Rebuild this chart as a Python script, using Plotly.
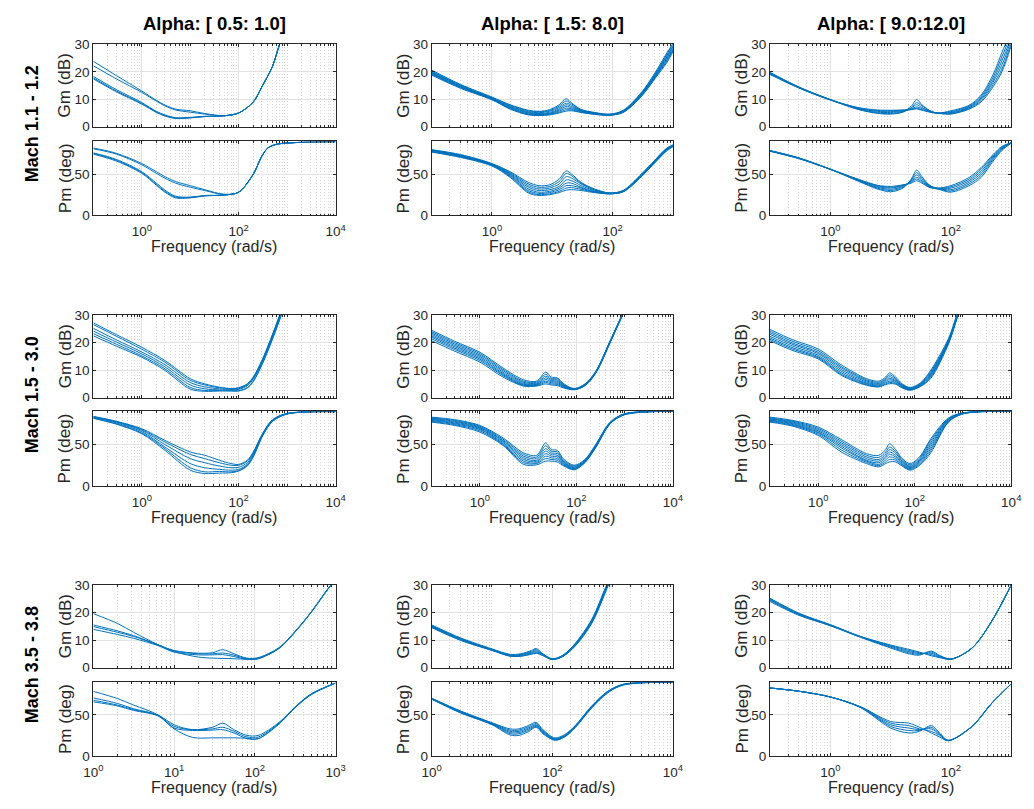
import plotly.graph_objects as go

# ---------------------------------------------------------------- text
COL_TITLES = ["Alpha: [ 0.5: 1.0]", "Alpha: [ 1.5: 8.0]", "Alpha: [ 9.0:12.0]"]
ROW_TITLES = ["Mach 1.1 - 1.2", "Mach 1.5 - 3.0", "Mach 3.5 - 3.8"]
GM_LABEL = "Gm (dB)"
PM_LABEL = "Pm (deg)"
X_LABEL = "Frequency (rad/s)"
GM_TICKS = [0, 10, 20, 30]
PM_TICKS = [0, 50]
# decade range of each panel's frequency axis and the labelled decades
X_DECADES = [[(-1, 4), (-1, 3), (-1, 3)], [(-1, 4), (-1, 4), (-1, 4)], [(0, 3), (0, 4), (-1, 3)]]
X_LABELLED = [[[0, 2, 4], [0, 2], [0, 2]], [[0, 2, 4], [0, 2, 4], [0, 2, 4]], [[0, 1, 2, 3], [0, 2, 4], [0, 2]]]

# ---------------------------------------------------------------- row 1, col 1
F_GM_11 = [0.1, 0.3, 1, 2, 3, 5, 10, 20, 50, 100, 200, 300, 500, 700, 1000]
GM_11 = [
    [23.8, 18.6, 13.0, 9.6, 7.9, 6.4, 5.8, 4.8, 4.0, 5.0, 9.0, 14.5, 22.0, 30.0, 36.0],
    [22.2, 17.4, 12.5, 9.3, 7.6, 6.1, 5.3, 4.6, 4.0, 5.0, 9.0, 14.5, 22.0, 30.0, 36.0],
    [18.3, 13.5, 8.8, 5.6, 4.3, 3.3, 3.4, 3.8, 4.0, 5.0, 9.0, 14.5, 22.0, 30.0, 36.0],
    [17.8, 13.0, 8.5, 5.4, 4.1, 3.1, 3.3, 3.7, 4.0, 5.0, 9.0, 14.5, 22.0, 30.0, 36.0],
    [17.4, 12.7, 8.2, 5.2, 3.9, 3.0, 3.2, 3.7, 4.0, 5.0, 9.0, 14.5, 22.0, 30.0, 36.0],
]
F_PM_11 = [0.1, 0.3, 1, 2, 3, 5, 10, 20, 50, 100, 200, 300, 400, 600, 1000, 3000, 10000]
PM_11 = [
    [82, 75.5, 63, 53, 47, 41, 36, 31, 25.5, 28, 50, 72, 82, 86.5, 88, 89.4, 89.8],
    [81, 74.5, 61.5, 51, 45, 39, 34, 30, 25, 28, 50, 72, 82, 86.5, 88, 89.4, 89.8],
    [76, 68, 53, 39, 30.5, 23, 22, 24, 24.5, 28, 50, 72, 82, 86.5, 88, 89.4, 89.8],
    [75.5, 67, 52, 37.5, 29, 22, 21.5, 23.5, 24.5, 28, 50, 72, 82, 86.5, 88, 89.4, 89.8],
    [74.5, 66, 51, 36.5, 28, 21, 21, 23.5, 24.5, 28, 50, 72, 82, 86.5, 88, 89.4, 89.8],
]

# ---------------------------------------------------------------- row 1, col 2
F_GM_12 = [0.1, 0.3, 1, 2, 4, 6, 9, 13, 17, 21, 30, 50, 90, 150, 300, 500, 800, 1200]
GM_12 = [
    [20.6, 15.4, 10.8, 8.0, 6.0, 5.6, 6.2, 8.0, 10.2, 8.6, 6.3, 5.2, 4.6, 6.0, 12.5, 19.5, 27.0, 33.0],
    [20.3, 15.2, 10.6, 7.8, 5.8, 5.4, 5.9, 7.5, 9.4, 8.3, 6.2, 5.1, 4.5, 5.8, 12.2, 19.0, 26.5, 33.0],
    [20.0, 15.0, 10.4, 7.5, 5.5, 5.1, 5.6, 7.0, 8.6, 7.8, 6.0, 5.0, 4.4, 5.7, 12.0, 18.8, 26.0, 32.0],
    [19.7, 14.8, 10.3, 7.3, 5.2, 4.8, 5.2, 6.5, 8.0, 7.3, 5.9, 4.9, 4.4, 5.6, 11.8, 18.5, 25.5, 32.0],
    [19.5, 14.6, 10.1, 7.0, 5.0, 4.6, 4.9, 6.1, 7.4, 6.9, 5.7, 4.8, 4.3, 5.5, 11.6, 18.2, 25.0, 31.5],
    [19.2, 14.4, 10.0, 6.8, 4.7, 4.4, 4.7, 5.7, 6.8, 6.5, 5.5, 4.7, 4.3, 5.4, 11.4, 18.0, 24.5, 31.0],
    [19.0, 14.2, 9.9, 6.6, 4.5, 4.2, 4.5, 5.3, 6.2, 6.1, 5.3, 4.6, 4.2, 5.3, 11.2, 17.7, 24.0, 31.0],
    [18.8, 14.0, 9.8, 6.4, 4.3, 4.1, 4.3, 5.0, 5.7, 5.8, 5.2, 4.5, 4.2, 5.2, 11.0, 17.4, 23.5, 30.5],
]
F_PM_12 = [0.1, 0.3, 1, 2, 4, 6, 9, 13, 17, 21, 30, 50, 90, 150, 300, 500, 800, 1200]
PM_12 = [
    [80, 74, 63, 53, 40, 36, 37, 44, 54, 50, 40, 32, 27, 30, 50, 67, 82, 88],
    [79.5, 73.5, 62.5, 52, 38, 34, 35, 41, 51, 48, 39, 31, 27, 30, 50, 67, 82, 88],
    [79, 73, 62, 51, 36, 32, 33, 38, 47, 45, 38, 31, 26.5, 29.5, 49, 66, 81, 88],
    [78.5, 72.5, 62, 50, 34, 30, 31, 35, 43, 42, 36, 30, 26.5, 29.5, 49, 66, 81, 88],
    [78, 72, 61.5, 49, 32, 28, 29, 33, 39, 39, 34, 29, 26.5, 29, 48, 65, 80, 87.5],
    [78, 71.5, 61, 48, 30, 26.5, 27.5, 31, 36, 36, 33, 28.5, 26, 29, 48, 65, 80, 87.5],
    [77.5, 71, 60.5, 47, 28.5, 25, 26, 29, 33, 33.5, 31.5, 28, 26, 28.5, 47, 64, 79, 87],
    [77, 70.5, 60, 46, 27, 24, 25, 27.5, 30.5, 31, 30, 27.5, 26, 28.5, 47, 64, 79, 87],
]

# ---------------------------------------------------------------- row 1, col 3
F_GM_13 = [0.1, 0.3, 1, 3, 6, 10, 16, 22, 27, 33, 45, 60, 100, 200, 316, 500, 700, 1000]
GM_13 = [
    [19.8, 14.5, 9.9, 6.3, 5.0, 4.8, 5.5, 7.5, 9.9, 8.0, 5.8, 5.0, 5.8, 7.8, 11.5, 19.0, 27.0, 35.0],
    [19.6, 14.4, 9.8, 6.2, 4.9, 4.6, 5.3, 7.0, 8.8, 7.6, 5.8, 5.0, 5.5, 7.5, 11.0, 18.0, 25.5, 33.5],
    [19.5, 14.3, 9.8, 6.4, 5.3, 5.2, 5.6, 6.8, 8.0, 7.0, 5.6, 4.9, 5.2, 7.2, 10.5, 17.0, 24.0, 32.5],
    [19.4, 14.3, 9.9, 6.6, 5.6, 5.5, 5.8, 6.5, 7.2, 6.6, 5.5, 5.0, 5.0, 6.9, 10.0, 16.2, 22.5, 31.5],
    [19.2, 14.2, 9.8, 6.8, 5.9, 5.8, 6.0, 6.3, 6.8, 6.2, 5.4, 4.9, 4.8, 6.6, 9.5, 15.3, 21.0, 30.5],
    [19.0, 14.1, 9.7, 6.9, 6.1, 6.0, 6.1, 6.2, 6.5, 6.0, 5.3, 4.9, 4.6, 6.4, 9.0, 14.5, 20.0, 29.5],
]
F_PM_13 = [0.1, 0.3, 1, 3, 6, 10, 16, 22, 27, 33, 45, 60, 100, 200, 316, 500, 700, 1000]
PM_13 = [
    [79, 70, 56, 41, 32, 28.5, 33, 44, 55, 47, 36, 33, 36, 46, 58, 74, 84, 88.5],
    [78.8, 69.8, 56, 41.5, 33, 30, 34, 43, 52, 45, 36, 33, 34.5, 44, 56, 72.5, 83, 88.5],
    [78.6, 69.6, 56, 42, 34, 31.5, 35, 42, 49, 43.5, 35, 32.5, 33, 42, 53.5, 71, 82, 88.3],
    [78.4, 69.4, 56, 42.5, 35, 33, 36, 41, 46, 42, 34.5, 32.5, 31, 40, 51, 69.5, 81, 88.2],
    [78.2, 69.2, 56, 43, 36, 34, 36.5, 40, 44, 40.5, 34, 32, 29.5, 38, 48.5, 68, 80, 88],
    [78, 69, 56, 43.5, 36.5, 35, 37, 39, 42, 39, 33.5, 32, 28, 36, 46, 66, 79, 88],
]

# ---------------------------------------------------------------- row 2, col 1
F_GM_21 = [0.1, 0.3, 1, 3, 10, 20, 40, 70, 100, 150, 200, 300, 450, 700, 1000]
GM_21 = [
    [27.2, 22.9, 18.3, 13.5, 6.9, 5.0, 3.8, 3.3, 3.6, 5.0, 7.5, 13.5, 21.0, 30.0, 37.0],
    [26.6, 22.3, 17.6, 12.9, 6.3, 4.6, 3.6, 3.2, 3.5, 4.9, 7.3, 13.2, 20.7, 29.7, 37.0],
    [25.2, 21.0, 16.6, 12.0, 5.5, 3.9, 3.2, 3.0, 3.2, 4.6, 7.0, 13.0, 20.5, 29.5, 37.0],
    [24.2, 20.2, 15.9, 11.2, 4.6, 3.2, 2.8, 2.8, 3.0, 4.3, 6.8, 12.7, 20.2, 29.2, 37.0],
    [23.3, 19.4, 15.2, 10.5, 3.7, 2.6, 2.6, 2.5, 2.5, 3.6, 6.0, 12.0, 19.5, 28.5, 36.0],
    [22.5, 18.7, 14.7, 9.9, 3.1, 2.3, 2.4, 2.4, 2.4, 3.5, 5.8, 11.8, 19.2, 28.2, 36.0],
]
F_PM_21 = [0.1, 0.3, 1, 3, 10, 20, 40, 70, 100, 150, 200, 316, 500, 1000, 10000]
PM_21 = [
    [84, 78, 69, 55, 41, 37, 31, 27, 26, 31, 41, 64, 80, 87.5, 89.7],
    [83.5, 77.5, 68, 53, 38, 33, 28, 25, 25, 30, 40, 63.5, 79.5, 87.5, 89.7],
    [83, 77, 67, 50, 33, 28, 24, 22, 22.5, 28, 39, 63, 79, 87, 89.7],
    [82.5, 76, 65.5, 47, 27, 22, 20, 19, 20, 26, 37, 62, 78.5, 87, 89.7],
    [82, 75, 64, 45, 22, 17, 17.5, 17, 18.5, 25, 36, 61.5, 78, 87, 89.7],
    [81.5, 74.5, 63, 43, 19, 15, 15.5, 16, 18, 24, 35, 61, 78, 87, 89.7],
]

# ---------------------------------------------------------------- row 2, col 2
F_GM_22 = [0.1, 0.3, 1, 3, 8, 15, 23, 30, 40, 55, 90, 150, 250, 500, 900]
GM_22 = [
    [24.5, 20.5, 16.5, 10.8, 6.5, 6.0, 9.3, 7.5, 7.2, 5.0, 3.3, 5.0, 9.5, 20.7, 30.5],
    [24.0, 20.0, 16.0, 10.3, 6.0, 5.6, 8.5, 7.0, 6.8, 4.7, 3.2, 4.9, 9.4, 20.6, 30.4],
    [23.5, 19.5, 15.5, 9.8, 5.6, 5.3, 7.8, 6.6, 6.4, 4.5, 3.1, 4.8, 9.3, 20.5, 30.3],
    [23.0, 19.0, 15.0, 9.3, 5.2, 5.0, 7.2, 6.2, 6.0, 4.3, 3.0, 4.7, 9.2, 20.4, 30.2],
    [22.5, 18.5, 14.5, 8.8, 4.9, 4.8, 6.6, 5.8, 5.6, 4.1, 3.0, 4.6, 9.1, 20.3, 30.1],
    [22.0, 18.0, 14.0, 8.4, 4.6, 4.6, 6.0, 5.4, 5.2, 3.9, 3.0, 4.5, 9.0, 20.2, 30.0],
    [21.4, 17.5, 13.5, 8.0, 4.4, 4.4, 5.5, 5.0, 4.8, 3.7, 2.9, 4.4, 8.9, 20.1, 30.0],
    [20.7, 16.9, 12.9, 7.5, 4.2, 4.2, 5.0, 4.6, 4.4, 3.5, 2.9, 4.3, 8.8, 20.0, 30.0],
]
F_PM_22 = [0.1, 0.3, 1, 3, 8, 15, 23, 30, 40, 55, 90, 150, 250, 500, 1000, 10000]
PM_22 = [
    [83, 80, 73, 58, 40, 37, 52, 44, 43, 32, 25, 32, 50, 77, 87, 90],
    [82, 79, 72, 56.5, 38, 35, 48.5, 42, 41, 30.5, 24, 31, 49, 76.5, 87, 90],
    [81.5, 78, 71, 55, 36, 33, 45, 40, 39, 29, 23, 30.5, 48.5, 76, 87, 90],
    [80.5, 77, 70, 54, 34, 31, 42, 38, 37, 28, 22, 30, 48, 76, 86.5, 90],
    [80, 76, 69, 52.5, 32, 29.5, 39, 36, 35, 27, 21, 29.5, 47.5, 75.5, 86.5, 90],
    [79, 75, 68, 51, 30, 28, 36, 34, 33, 26, 20.5, 29, 47, 75.5, 86.5, 90],
    [78, 74, 66.5, 50, 28, 27, 33, 32, 31, 25, 20, 28.5, 46.5, 75, 86, 90],
    [77, 73, 65, 49, 26, 25.5, 30, 30, 29, 24, 19.5, 28, 46, 75, 86, 90],
]

# ---------------------------------------------------------------- row 2, col 3
F_GM_23 = [0.1, 0.3, 1, 3, 10, 18, 25, 30, 40, 55, 80, 130, 215, 500, 760, 1000]
GM_23 = [
    [24.8, 21.0, 17.7, 11.9, 6.9, 6.0, 7.5, 9.0, 7.5, 5.0, 3.7, 5.3, 10.0, 21.5, 30.5, 35.0],
    [24.2, 20.4, 17.1, 11.3, 6.5, 5.6, 7.0, 8.3, 7.0, 4.7, 3.5, 5.1, 9.5, 21.0, 30.0, 35.0],
    [23.6, 19.8, 16.5, 10.8, 6.1, 5.2, 6.6, 7.6, 6.6, 4.5, 3.3, 4.9, 9.0, 20.8, 30.0, 35.0],
    [23.0, 19.3, 16.0, 10.2, 5.7, 4.9, 6.2, 7.0, 6.2, 4.3, 3.2, 4.7, 8.6, 20.5, 29.8, 35.0],
    [22.3, 18.7, 15.4, 9.6, 5.3, 4.6, 5.8, 6.5, 5.9, 4.1, 3.0, 4.5, 8.2, 20.3, 29.6, 35.0],
    [21.7, 18.1, 14.9, 9.0, 5.0, 4.3, 5.4, 6.0, 5.5, 3.9, 2.9, 4.3, 7.8, 20.0, 29.5, 35.0],
    [21.2, 17.6, 14.5, 8.5, 4.7, 4.0, 5.0, 5.5, 5.2, 3.7, 2.8, 4.1, 7.4, 19.8, 29.3, 35.0],
    [20.7, 17.1, 14.1, 8.1, 4.5, 3.9, 4.7, 5.1, 4.9, 3.5, 2.7, 4.0, 7.0, 19.5, 29.0, 35.0],
]
F_PM_23 = [0.1, 0.3, 1, 3, 10, 18, 25, 30, 40, 55, 80, 130, 215, 500, 1000, 10000]
PM_23 = [
    [83, 79, 71, 56, 39, 37, 44, 51, 44, 33, 27, 36, 57, 82, 88, 90],
    [82, 78, 69.5, 54, 37, 34.5, 41, 47, 41.5, 31.5, 25.5, 34.5, 55, 81, 88, 90],
    [81, 77, 68, 52, 35, 32, 38.5, 44, 39.5, 30, 24, 33, 52.5, 80.5, 88, 90],
    [80.5, 76, 66.5, 50, 33, 30, 36, 41, 37, 29, 23, 31.5, 50, 80, 88, 90],
    [79.5, 75, 65, 48, 31, 28, 34, 38, 35, 27.5, 22, 30, 47.5, 79, 87.5, 90],
    [79, 74, 64, 46, 30, 26, 31.5, 35, 33, 26, 21, 28.5, 45, 78, 87.5, 90],
    [78, 73, 62.5, 43.5, 28.5, 24.5, 29, 32, 31, 25, 20, 27, 42.5, 77.5, 87, 90],
    [77, 72, 61, 41, 27, 23, 27, 29, 29, 24, 19, 25.5, 40, 77, 87, 90],
]

# ---------------------------------------------------------------- row 3, col 1
F_GM_31 = [1, 2, 3.16, 6.3, 10, 20, 30, 40, 55, 80, 110, 200, 316, 500, 800, 1000]
GM_31 = [
    [19.6, 16.0, 12.8, 8.3, 5.8, 3.8, 3.4, 3.3, 3.2, 3.0, 3.2, 7.0, 13.0, 20.2, 28.5, 32.0],
    [15.5, 13.3, 11.6, 8.3, 6.2, 5.2, 5.4, 6.5, 5.0, 3.4, 3.6, 7.3, 13.2, 20.3, 28.6, 32.0],
    [14.9, 12.8, 11.3, 8.2, 6.0, 5.0, 5.0, 5.3, 4.5, 3.2, 3.4, 7.1, 13.1, 20.2, 28.5, 32.0],
    [13.9, 12.0, 10.6, 8.0, 5.6, 4.6, 4.6, 4.7, 4.0, 3.0, 3.2, 7.0, 13.0, 20.1, 28.4, 32.0],
]
F_PM_31 = [1, 2, 3.16, 6.3, 10, 17, 30, 40, 55, 80, 110, 200, 316, 500, 1000]
PM_31 = [
    [78.8, 70, 62, 50, 33, 22.5, 22, 22, 22, 21.5, 21, 39, 59, 75, 89],
    [70.8, 64, 57.5, 50, 38, 32, 35, 40, 32, 25, 25, 41, 60, 76, 89],
    [68, 62, 56.5, 49.5, 36, 32, 33, 35, 30, 23, 23, 40, 59.5, 75.5, 89],
    [66, 61, 55.5, 49, 34, 31, 31.5, 32, 28, 21, 21, 39.5, 59, 75, 89],
]

# ---------------------------------------------------------------- row 3, col 2
F_GM_32 = [1, 3, 10, 20, 30, 45, 54, 70, 100, 150, 240, 450, 830, 1200]
GM_32 = [
    [15.5, 10.8, 6.8, 4.8, 5.0, 6.2, 6.9, 5.0, 3.2, 4.5, 8.8, 17.5, 31.0, 38.0],
    [15.3, 10.6, 6.6, 4.6, 4.8, 5.9, 6.5, 4.8, 3.1, 4.4, 8.6, 17.2, 30.5, 38.0],
    [15.1, 10.4, 6.5, 4.5, 4.6, 5.6, 6.1, 4.7, 3.0, 4.3, 8.4, 16.9, 30.2, 38.0],
    [14.9, 10.2, 6.4, 4.3, 4.4, 5.3, 5.7, 4.6, 3.0, 4.2, 8.2, 16.6, 30.0, 38.0],
    [14.7, 10.0, 6.3, 4.2, 4.2, 5.0, 5.4, 4.4, 2.9, 4.1, 8.0, 16.3, 29.7, 38.0],
    [14.5, 9.9, 6.2, 4.1, 4.1, 4.8, 5.2, 4.3, 2.9, 4.0, 7.8, 16.0, 29.4, 38.0],
]
F_PM_32 = [1, 3, 10, 20, 28, 40, 54, 70, 110, 160, 240, 450, 830, 1500, 10000]
PM_32 = [
    [70.5, 55, 40.5, 33, 33, 37, 41, 32, 22, 26, 37, 61, 79, 87.5, 90],
    [70.2, 54.5, 40, 31.5, 31.5, 35.5, 39.5, 31, 21, 25, 36.5, 60.5, 78.5, 87.5, 90],
    [70, 54, 39.5, 30, 30, 34, 38, 30, 20.5, 24.5, 36, 60, 78, 87, 90],
    [69.8, 53.5, 39, 28.5, 28.5, 32.5, 37, 29, 20, 24, 35.5, 59.5, 78, 87, 90],
    [69.5, 53, 38.5, 27, 27, 31, 36, 28, 19.5, 23.5, 35, 59, 77.5, 87, 90],
    [69.2, 52.5, 38, 25.5, 25, 29.5, 35, 27, 19, 23, 34.5, 58.5, 77, 86.5, 90],
]

# ---------------------------------------------------------------- row 3, col 3
F_GM_33 = [0.1, 0.3, 1, 3.16, 10, 20, 30, 47, 65, 100, 224, 470, 1000]
GM_33 = [
    [25.2, 19.8, 15.6, 11.3, 8.2, 6.6, 5.6, 4.3, 3.6, 3.0, 7.1, 16.7, 30.0],
    [25.0, 19.6, 15.5, 11.3, 8.0, 6.2, 5.4, 4.7, 3.8, 3.0, 7.1, 16.7, 30.0],
    [24.7, 19.4, 15.4, 11.2, 7.7, 5.8, 5.1, 5.2, 4.0, 3.0, 7.1, 16.7, 30.0],
    [24.4, 19.2, 15.3, 11.1, 7.4, 5.4, 4.8, 5.6, 4.2, 3.1, 7.1, 16.7, 30.0],
    [24.0, 19.0, 15.2, 11.0, 7.1, 5.0, 4.5, 6.0, 4.4, 3.1, 7.1, 16.7, 30.0],
]
F_PM_33 = [0.1, 0.3, 1, 3.16, 10, 20, 30, 47, 65, 90, 224, 470, 1000]
PM_33 = [
    [83, 79, 72, 60, 42, 40, 35, 28, 23, 18.5, 36, 64, 88],
    [83, 79, 72, 60, 40, 37, 33, 30, 25, 18.5, 36, 64, 88],
    [83, 79, 72, 59.5, 38, 34, 32, 33, 26, 18.5, 36, 64, 88],
    [83, 79, 72, 59.5, 36, 31, 31, 35, 27, 19, 36, 64, 88],
    [83, 79, 72, 59, 34, 28, 30, 37, 28, 19, 36, 64, 88],
]

PANELS = [
    [(F_GM_11, GM_11, F_PM_11, PM_11), (F_GM_12, GM_12, F_PM_12, PM_12), (F_GM_13, GM_13, F_PM_13, PM_13)],
    [(F_GM_21, GM_21, F_PM_21, PM_21), (F_GM_22, GM_22, F_PM_22, PM_22), (F_GM_23, GM_23, F_PM_23, PM_23)],
    [(F_GM_31, GM_31, F_PM_31, PM_31), (F_GM_32, GM_32, F_PM_32, PM_32), (F_GM_33, GM_33, F_PM_33, PM_33)],
]

# ---------------------------------------------------------------- geometry / style
W, H = 1034, 809
COL_PX = [(85, 332), (430, 676), (775, 1021)]
ROW_PX = [((38, 122), (137, 212)), ((314, 398), (412, 488)), ((589, 673), (688, 763))]
BLUE = "#0072BD"
AXC = "#262626"
GRID = "#e3e3e3"
MINOR_GRID = "#d7d7d7"
FONT = "Liberation Sans, Arial, Helvetica, sans-serif"
TICK_SIZE = 13.5
LABEL_SIZE = 16
YLABEL_SIZE = 17
TITLE_SIZE = 18.5
ROWT_SIZE = 18


def px_x(p):
    return p / W


def px_y(p):
    return 1 - p / H


fig = go.Figure()
layout = dict(
    width=W, height=H, margin=dict(l=0, r=0, t=0, b=0),
    paper_bgcolor="white", plot_bgcolor="white", showlegend=False,
    font=dict(family=FONT, color=AXC, size=TICK_SIZE),
)
annotations = []

idx = 0
for r in range(3):
    for c in range(3):
        fgm, gm, fpm, pm = PANELS[r][c]
        x0, x1 = COL_PX[c]
        lo, hi = X_DECADES[r][c]
        lab = X_LABELLED[r][c]
        major = [10.0 ** d for d in lab]
        majtext = ["10<sup>%d</sup>" % d for d in lab]
        minor = []
        for d in range(lo, hi + 1):
            if d not in lab:
                minor.append(10.0 ** d)
            if d < hi:
                for m in range(2, 10):
                    minor.append(m * 10.0 ** d)
        for k, (freqs, curves, yr, yt, is_pm) in enumerate(
            [(fgm, gm, [0, 30], GM_TICKS, False), (fpm, pm, [0, 90], PM_TICKS, True)]
        ):
            idx += 1
            xa = "x" if idx == 1 else "x%d" % idx
            ya = "y" if idx == 1 else "y%d" % idx
            for cur in curves:
                fig.add_trace(go.Scatter(
                    x=freqs, y=cur, mode="lines",
                    line=dict(color=BLUE, width=1, shape="spline", smoothing=0.9),
                    xaxis=xa, yaxis=ya, hoverinfo="skip",
                ))
            top, bot = ROW_PX[r][k]
            layout["xaxis" if idx == 1 else "xaxis%d" % idx] = dict(
                type="log", range=[lo, hi], domain=[px_x(x0), px_x(x1)],
                anchor=ya, tickmode="array", tickvals=major, ticktext=majtext,
                showticklabels=is_pm, ticks="inside", ticklen=3, tickwidth=1,
                tickcolor=AXC, showline=True, linecolor=AXC, linewidth=1,
                mirror="allticks", showgrid=True, gridcolor=GRID, gridwidth=1,
                zeroline=False, ticklabelstandoff=4,
                tickfont=dict(size=TICK_SIZE, color=AXC, family=FONT),
                minor=dict(tickmode="array", tickvals=minor, ticks="inside", ticklen=1.5,
                           tickcolor=AXC, showgrid=True, gridcolor=MINOR_GRID,
                           griddash="1px,2px", gridwidth=1),
            )
            layout["yaxis" if idx == 1 else "yaxis%d" % idx] = dict(
                range=yr, domain=[px_y(bot), px_y(top)], anchor=xa,
                tickmode="array", tickvals=yt, ticks="inside", ticklen=3,
                tickcolor=AXC, showline=True, linecolor=AXC, linewidth=1,
                mirror="allticks", showgrid=True, gridcolor=GRID, gridwidth=1,
                zeroline=False, tickfont=dict(size=TICK_SIZE, color=AXC, family=FONT),
            )
            annotations.append(dict(
                text=PM_LABEL if is_pm else GM_LABEL, xref="paper", yref="paper",
                x=px_x(x0 - 29), y=px_y((top + bot) / 2), textangle=-90,
                showarrow=False, xanchor="center", yanchor="middle",
                font=dict(size=YLABEL_SIZE, color=AXC, family=FONT),
            ))
        # frequency label below the Pm axes
        pm_bot = ROW_PX[r][1][1]
        annotations.append(dict(
            text=X_LABEL, xref="paper", yref="paper",
            x=px_x((x0 + x1) / 2), y=px_y(pm_bot + 32), showarrow=False,
            xanchor="center", yanchor="middle",
            font=dict(size=LABEL_SIZE, color=AXC, family=FONT),
        ))

for c in range(3):
    x0, x1 = COL_PX[c]
    annotations.append(dict(
        text="<b>%s</b>" % COL_TITLES[c], xref="paper", yref="paper",
        x=px_x((x0 + x1) / 2), y=px_y(17), showarrow=False,
        xanchor="center", yanchor="middle",
        font=dict(size=TITLE_SIZE, color="black", family=FONT),
    ))
for r in range(3):
    top = ROW_PX[r][0][0]
    bot = ROW_PX[r][1][1]
    annotations.append(dict(
        text="<b>%s</b>" % ROW_TITLES[r], xref="paper", yref="paper",
        x=px_x(22), y=px_y((top + bot) / 2 - 6), textangle=-90, showarrow=False,
        xanchor="center", yanchor="middle",
        font=dict(size=ROWT_SIZE, color="black", family=FONT),
    ))

layout["annotations"] = annotations
fig.update_layout(**layout)
fig.write_html("out.html")
